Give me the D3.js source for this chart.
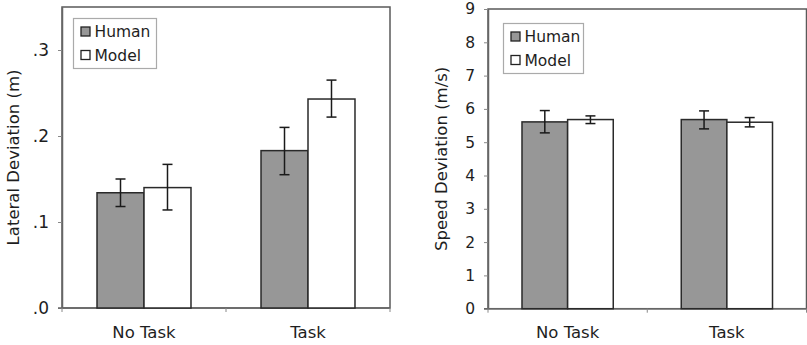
<!DOCTYPE html>
<html>
<head>
<meta charset="utf-8">
<script src="https://cdn.jsdelivr.net/npm/d3@7"></script>
<style>
  html, body { margin: 0; padding: 0; background: #fff; }
  svg { display: block; font-family: "DejaVu Sans", Verdana, sans-serif; }
</style>
</head>
<body>
<svg id="chart" width="807" height="345"></svg>
<script>
// Conditions and series
const conditions = ["No Task", "Task"];
const series = ["Human", "Model"];

// Lateral deviation (m): means and error-bar bounds
const lateralHuman = [0.134, 0.183];
const lateralModel = [0.140, 0.243];
const lateralHumanLow = [0.118, 0.155];
const lateralHumanHigh = [0.150, 0.210];
const lateralModelLow = [0.114, 0.222];
const lateralModelHigh = [0.167, 0.265];
const lateralTicks = [0, 0.1, 0.2, 0.3];
const lateralTickLabels = [".0", ".1", ".2", ".3"];

// Speed deviation (m/s): means and error-bar bounds
const speedHuman = [5.61, 5.68];
const speedModel = [5.68, 5.60];
const speedHumanLow = [5.28, 5.40];
const speedHumanHigh = [5.95, 5.94];
const speedModelLow = [5.56, 5.46];
const speedModelHigh = [5.79, 5.74];
const speedTicks = [0, 1, 2, 3, 4, 5, 6, 7, 8, 9];
const speedTickLabels = ["0", "1", "2", "3", "4", "5", "6", "7", "8", "9"];

const fills = { Human: "#979797", Model: "#ffffff" };
const textColor = "#1e1e1e";
const svg = d3.select("#chart");

function drawPanel(p) {
  const g = svg.append("g");
  const x = d3.scaleBand().domain(conditions).range([p.left, p.right]).paddingInner(0).paddingOuter(0);
  const xs = d3.scaleBand().domain(series).range([0, x.bandwidth()]).paddingInner(0).paddingOuter(0.745);
  const y = d3.scaleLinear().domain(p.domain).range([p.bottom, p.top]);

  // plot frame
  g.append("rect")
    .attr("x", p.left).attr("y", p.top)
    .attr("width", p.right - p.left).attr("height", p.bottom - p.top)
    .attr("fill", "#fff").attr("stroke", "#5a5a5a").attr("stroke-width", 1.5);

  // y axis
  const yAxis = d3.axisLeft(y).tickValues(p.ticks)
    .tickFormat((d, i) => p.tickLabels[i]).tickSizeInner(4).tickSizeOuter(0).tickPadding(9);
  const ya = g.append("g").attr("transform", `translate(${p.left},0)`).call(yAxis);
  ya.select(".domain").attr("stroke", "#666").attr("stroke-width", 1.5);
  ya.selectAll(".tick line").attr("stroke", "#888");
  ya.selectAll(".tick text").attr("font-size", p.tickFont).attr("fill", textColor)
    .attr("font-family", "DejaVu Sans, Verdana, sans-serif");

  // x axis: ticks mark the category boundaries
  const xa = g.append("g").attr("transform", `translate(0,${p.bottom})`);
  xa.append("line").attr("x1", p.left - 4).attr("x2", p.right)
    .attr("stroke", "#666").attr("stroke-width", 1.5);
  const bounds = conditions.map(c => x(c)).concat([p.right]);
  xa.selectAll("line.sep").data(bounds).join("line").attr("class", "sep")
    .attr("x1", d => d).attr("x2", d => d).attr("y1", 0).attr("y2", 4)
    .attr("stroke", "#888");
  xa.selectAll("text").data(conditions).join("text")
    .attr("x", d => x(d) + x.bandwidth() / 2).attr("y", 29.5)
    .attr("text-anchor", "middle").attr("font-size", 16.5).attr("fill", textColor)
    .text(d => d);

  // bars
  const rows = [];
  conditions.forEach((c, i) => {
    rows.push({ c, s: "Human", v: p.human[i], lo: p.humanLow[i], hi: p.humanHigh[i] });
    rows.push({ c, s: "Model", v: p.model[i], lo: p.modelLow[i], hi: p.modelHigh[i] });
  });
  g.selectAll("rect.bar").data(rows).join("rect").attr("class", "bar")
    .attr("x", d => x(d.c) + xs(d.s)).attr("width", xs.bandwidth())
    .attr("y", d => y(d.v)).attr("height", d => y(0) - y(d.v))
    .attr("fill", d => fills[d.s]).attr("stroke", "#2a2a2a").attr("stroke-width", 1.5);

  // error bars
  const eb = g.selectAll("g.err").data(rows).join("g").attr("class", "err")
    .attr("stroke", "#1a1a1a").attr("stroke-width", 1.5);
  const cx = d => x(d.c) + xs(d.s) + xs.bandwidth() / 2;
  eb.append("line").attr("x1", cx).attr("x2", cx).attr("y1", d => y(d.lo)).attr("y2", d => y(d.hi));
  eb.append("line").attr("x1", d => cx(d) - 5).attr("x2", d => cx(d) + 5).attr("y1", d => y(d.lo)).attr("y2", d => y(d.lo));
  eb.append("line").attr("x1", d => cx(d) - 5).attr("x2", d => cx(d) + 5).attr("y1", d => y(d.hi)).attr("y2", d => y(d.hi));

  // axis title
  g.append("text")
    .attr("transform", `translate(${p.titleX},${(p.top + p.bottom) / 2}) rotate(-90)`)
    .attr("text-anchor", "middle").attr("dominant-baseline", "central")
    .attr("font-size", 16.5).attr("fill", textColor).text(p.title);

  // legend
  const lg = g.append("g").attr("transform", `translate(${p.legX},${p.legY})`);
  lg.append("rect").attr("width", p.legW).attr("height", 50)
    .attr("fill", "#fff").attr("stroke", "#aaa").attr("stroke-width", 1.2);
  series.forEach((s, i) => {
    lg.append("rect").attr("x", 7.5).attr("y", 8.5 + i * 23.5).attr("width", 9).attr("height", 9)
      .attr("fill", fills[s]).attr("stroke", "#222").attr("stroke-width", 1.3);
    lg.append("text").attr("x", 21).attr("y", 18.5 + i * 23.5)
      .attr("font-size", 15.5).attr("fill", textColor).text(s);
  });
}

drawPanel({
  left: 62, right: 390, top: 7, bottom: 308, domain: [0, 0.35],
  ticks: lateralTicks, tickLabels: lateralTickLabels, tickFont: 17,
  human: lateralHuman, model: lateralModel,
  humanLow: lateralHumanLow, humanHigh: lateralHumanHigh,
  modelLow: lateralModelLow, modelHigh: lateralModelHigh,
  title: "Lateral Deviation (m)", titleX: 13,
  legX: 73.5, legY: 18.5, legW: 83
});

drawPanel({
  left: 488, right: 806.5, top: 9, bottom: 308.7, domain: [0, 9],
  ticks: speedTicks, tickLabels: speedTickLabels, tickFont: 15.5,
  human: speedHuman, model: speedModel,
  humanLow: speedHumanLow, humanHigh: speedHumanHigh,
  modelLow: speedModelLow, modelHigh: speedModelHigh,
  title: "Speed Deviation (m/s)", titleX: 441,
  legX: 503.5, legY: 23.5, legW: 80
});
</script>
</body>
</html>
